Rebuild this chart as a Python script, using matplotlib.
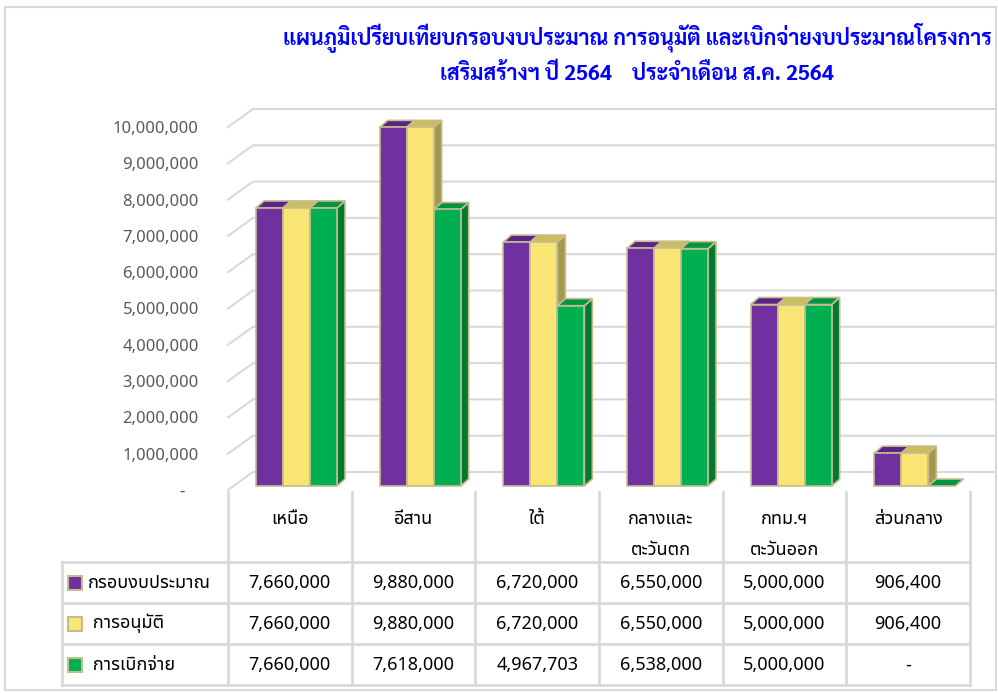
import matplotlib
matplotlib.use("Agg")
import matplotlib.pyplot as plt
from matplotlib.patches import Polygon, Rectangle

# ข้อมูล
categories = ["เหนือ", "อีสาน", "ใต้", "กลางและ\nตะวันตก", "กทม.ฯ\nตะวันออก", "ส่วนกลาง"]
series_names = ["กรอบงบประมาณ", " การอนุมัติ", " การเบิกจ่าย"]
budget = [7660000, 9880000, 6720000, 6550000, 5000000, 906400]
approved = [7660000, 9880000, 6720000, 6550000, 5000000, 906400]
disbursed = [7660000, 7618000, 4967703, 6538000, 5000000, 0]
yticks = [0, 1000000, 2000000, 3000000, 4000000, 5000000,
          6000000, 7000000, 8000000, 9000000, 10000000]

title = ("แผนภูมิเปรียบเทียบกรอบงบประมาณ การอนุมัติ และเบิกจ่ายงบประมาณโครงการ\n"
         "เสริมสร้างฯ ปี 2564    ประจำเดือน ส.ค. 2564")

THAI = ["Noto Sans Thai UI", "Noto Sans", "DejaVu Sans"]
THAI_BOLD = ["Sarabun", "Noto Sans Thai UI", "DejaVu Sans"]
plt.rcParams['font.family'] = THAI

# สี: หน้า, บน, ข้าง
colors = [("#7030A0", "#5B2488", "#4A1C70"),
          ("#F9E574", "#CBBD5E", "#A3984F"),
          ("#00B050", "#00953F", "#007A32")]
EDGE = "#C6BC8E"
GRID = "#D9D9D9"

W, H = 998, 693
fig = plt.figure(figsize=(W / 100, H / 100), dpi=100)

# กรอบรูป
fig.add_artist(Rectangle((5 / W, 3 / H), 991 / W, 683 / H, transform=fig.transFigure,
                         fill=False, edgecolor=GRID, lw=1.5))

# แกนกราฟ (ระนาบหน้า)
L, R, B, T = 228, 970, 490, 127
ax = fig.add_axes([L / W, 1 - B / H, (R - L) / W, (B - T) / H])
ax.set_xlim(-0.5, 5.5)
ax.set_ylim(0, 10000000)
ax.set_facecolor("none")
for s in ax.spines.values():
    s.set_visible(False)
ax.set_xticks([])

px_x = (R - L) / 6.0           # px ต่อ 1 หมวด
px_y = (B - T) / 10000000.0    # px ต่อ 1 บาท

WDX, WDY = 25 / px_x, 18 / px_y      # ความลึกผนัง
OX, OY = 6.7 / px_x, 4 / px_y        # ตำแหน่งแท่งในแนวลึก
BDX, BDY = 8 / px_x, 7 / px_y        # ความลึกแท่ง
BW = 27 / px_x

# เส้นกริดบนผนัง
for v in yticks:
    ax.plot([-0.5, -0.5 + WDX, 5.5 + WDX], [v, v + WDY, v + WDY],
            color=GRID, lw=1.5, clip_on=False, zorder=0)

ax.set_yticks(yticks)
ax.set_yticklabels(["{:,}".format(v) if v else "-   " for v in yticks])
ax.tick_params(axis="y", length=0, pad=21, labelcolor="#595959", labelsize=12)

# แท่ง 3 มิติ
series = [budget, approved, disbursed]
z = 2
for i in range(len(categories)):
    for j, vals in enumerate(series):
        x0 = i - 1.5 * BW + j * BW + OX
        x1 = x0 + BW
        y0 = OY
        y1 = OY + vals[i]
        front, top, side = colors[j]
        ax.add_patch(Polygon([(x1, y0), (x1 + BDX, y0 + BDY), (x1 + BDX, y1 + BDY), (x1, y1)],
                             closed=True, facecolor=side, edgecolor=EDGE, lw=1.2,
                             clip_on=False, zorder=z))
        ax.add_patch(Polygon([(x0, y1), (x0 + BDX, y1 + BDY), (x1 + BDX, y1 + BDY), (x1, y1)],
                             closed=True, facecolor=top, edgecolor=EDGE, lw=1.2,
                             clip_on=False, zorder=z))
        if vals[i] > 0:
            ax.add_patch(Rectangle((x0, y0), BW, vals[i], facecolor=front, edgecolor=EDGE,
                                   lw=1.2, clip_on=False, zorder=z))
        z += 1

# ชื่อกราฟ
fig.text(637 / W, 1 - 54 / H, title, ha="center", va="center", color="#0000FF",
         fontsize=15.3, fontweight="bold", linespacing=1.68, family=THAI_BOLD)

# ตารางข้อมูล
TL, TB = 62, 685
HEADER = 1.77
tax = fig.add_axes([TL / W, 1 - TB / H, (R - TL) / W, (TB - B) / H])
xmin = 5.5 - (R - TL) / px_x
tax.set_xlim(xmin, 5.5)
tax.set_ylim(HEADER + 3, 0)
tax.axis("off")

for k in range(7):
    tax.plot([k - 0.5, k - 0.5], [0.05, HEADER + 3], color=GRID, lw=2, clip_on=False)
tax.plot([xmin, xmin], [HEADER, HEADER + 3], color=GRID, lw=2, clip_on=False)
for r in range(4):
    tax.plot([xmin, 5.5], [HEADER + r, HEADER + r], color=GRID, lw=2, clip_on=False)

for i, name in enumerate(categories):
    for n, line in enumerate(name.split("\n")):
        tax.text(i, 0.71 + n * 0.76, line, ha="center", va="center", fontsize=13,
                 color="black")

row_unit = (TB - B) / (HEADER + 3)
for r, vals in enumerate(series):
    yc = HEADER + r + 0.5
    for i, v in enumerate(vals):
        tax.text(i, yc, "{:,}".format(v) if v else "-", ha="center", va="center",
                 fontsize=13, color="black")
    kh = 14 / row_unit
    tax.add_patch(Rectangle((xmin + 6 / px_x, yc - kh / 2), 14 / px_x, kh,
                            facecolor=colors[r][0], edgecolor=EDGE, lw=1.5, clip_on=False))
    tax.text(xmin + 26 / px_x, yc, series_names[r], ha="left", va="center",
             fontsize=13, color="black")

fig.savefig("out.png", dpi=100)
